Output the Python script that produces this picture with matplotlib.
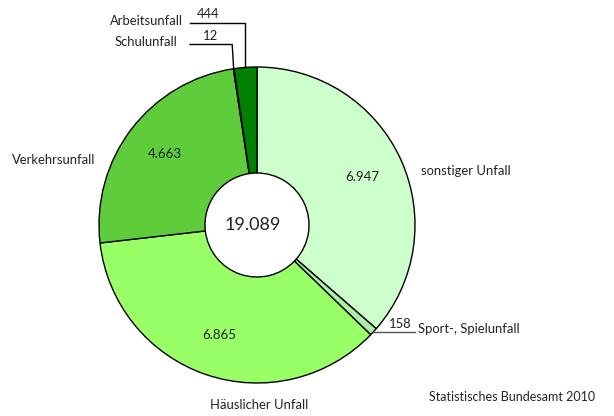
import numpy as np
import matplotlib.pyplot as plt

# Unfallorte (Reihenfolge im Uhrzeigersinn ab 12 Uhr)
kategorien = ["sonstiger Unfall", "Sport-, Spielunfall", "Häuslicher Unfall",
              "Verkehrsunfall", "Schulunfall", "Arbeitsunfall"]
werte = [6947, 158, 6865, 4663, 12, 444]
farben = ["#ccffcc", "#aaf0aa", "#99ff66", "#5fcc3c", "#006600", "#008000"]
gesamt = sum(werte)


def fmt(v):
    return f"{v:,}".replace(",", ".")


plt.rcParams['font.family'] = ['Lato', 'DejaVu Sans']
fig = plt.figure(figsize=(6.14, 4.16), dpi=100)
ax = fig.add_axes([0, 0, 1, 1])

cx, cy = 257, 225
R, r = 158, 52
# y-Achse ist invertiert -> counterclock=True laeuft visuell im Uhrzeigersinn
wedges, _ = ax.pie(werte, colors=farben, startangle=-90, counterclock=True,
                   radius=R, center=(cx, cy), frame=True,
                   wedgeprops=dict(width=R - r, edgecolor='black', linewidth=1.0))
ax.set_xlim(0, 614)
ax.set_ylim(416, 0)
ax.set_aspect('equal')
ax.axis('off')

# Mittelwinkel (Bildkoordinaten, y nach unten)
kum = np.cumsum([0] + werte)
mitte = (kum[:-1] + kum[1:]) / 2 / gesamt
winkel = -np.pi / 2 + 2 * np.pi * mitte
px = cx + R * np.cos(winkel)
py = cy + R * np.sin(winkel)

# Werte in den grossen Segmenten
for i in [0, 2, 3]:
    ax.text(cx + 0.735 * R * np.cos(winkel[i]), cy + 0.735 * R * np.sin(winkel[i]),
            fmt(werte[i]), ha='center', va='center', fontsize=9.5, color='#222222')

ax.text(cx - 4, cy, fmt(gesamt), ha='center', va='center', fontsize=13, color='#222222')

txt = dict(fontsize=9.4, color='#222222')
ax.text(421, 171, kategorien[0], ha='left', va='center', **txt)
ax.text(259, 405, kategorien[2], ha='center', va='center', **txt)
ax.text(12, 160, kategorien[3], ha='left', va='center', **txt)

# Sport-, Spielunfall mit Fuehrungslinie
ax.plot([px[1], 415], [py[1], py[1]], color='#555555', lw=1)
ax.text(400, py[1] - 2, fmt(werte[1]), ha='center', va='bottom', **txt)
ax.text(418, 329, kategorien[1], ha='left', va='center', **txt)

# Arbeitsunfall / Schulunfall oben
ax.plot([190, px[5], px[5]], [22.7, 22.7, py[5]], color='black', lw=1)
ax.text(208, 20.5, fmt(werte[5]), ha='center', va='bottom', **txt)
ax.text(183, 21, kategorien[5], ha='right', va='center', **txt)

ax.plot([190, px[4] - 1.5, px[4]], [44.5, 44.5, py[4]], color='black', lw=1)
ax.text(211, 42.5, fmt(werte[4]), ha='center', va='bottom', **txt)
ax.text(177, 42.5, kategorien[4], ha='right', va='center', **txt)

ax.text(595, 397, "Statistisches Bundesamt 2010", ha='right', va='center',
        fontsize=9, color='#222222')

fig.savefig("out.png", dpi=100)
